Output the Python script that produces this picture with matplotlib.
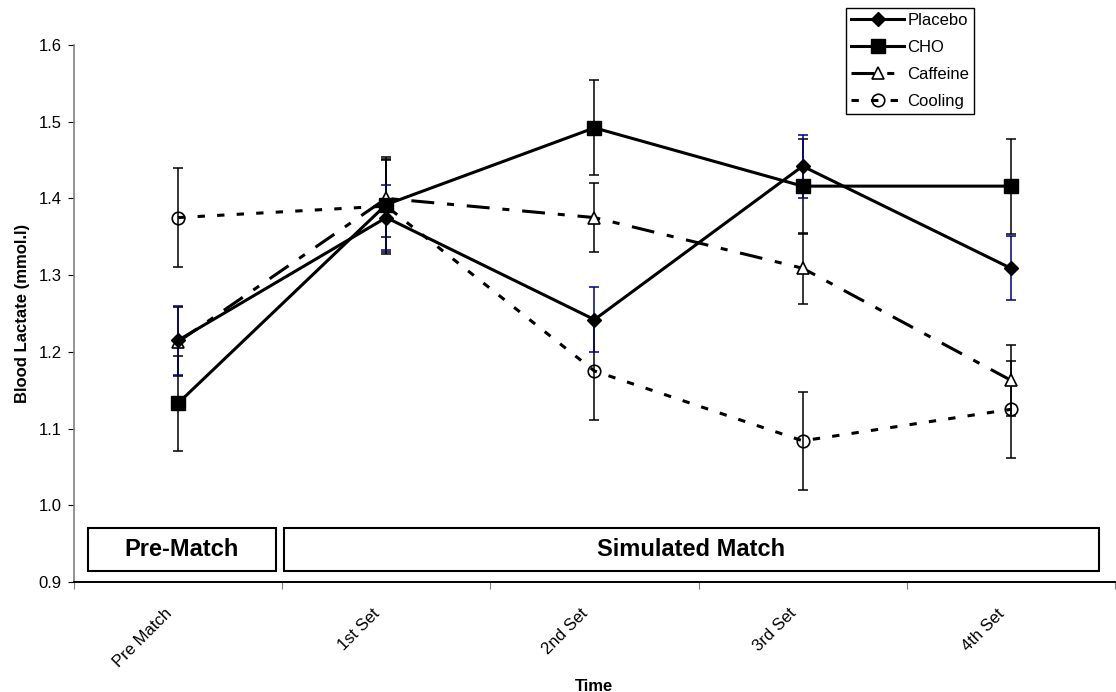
import matplotlib.pyplot as plt
import matplotlib.transforms as mtransforms
from matplotlib.patches import Rectangle

plt.rcParams['font.family'] = ['Liberation Sans', 'DejaVu Sans']

times = ['Pre Match', '1st Set', '2nd Set', '3rd Set', '4th Set']

placebo = [1.215, 1.375, 1.242, 1.442, 1.309]
placebo_err = [0.045, 0.042, 0.042, 0.041, 0.042]
cho = [1.133, 1.392, 1.492, 1.416, 1.416]
cho_err = [0.062, 0.062, 0.062, 0.062, 0.062]
caffeine = [1.213, 1.400, 1.375, 1.309, 1.163]
caffeine_err = [0.045, 0.050, 0.045, 0.046, 0.046]
cooling = [1.375, 1.390, 1.175, 1.084, 1.125]
cooling_err = [0.065, 0.062, 0.064, 0.064, 0.063]

fig = plt.figure(figsize=(11.16, 6.92), dpi=100)
ax = fig.add_axes([0.0663, 0.159, 0.9327, 0.776])
x = list(range(len(times)))

# error bars first (placebo bars are navy), lines on top
ebkw = dict(fmt='none', elinewidth=1.1, capsize=3.6, capthick=1.1, zorder=2)
ax.errorbar(x, cho, yerr=cho_err, ecolor='black', **ebkw)
ax.errorbar(x, caffeine, yerr=caffeine_err, ecolor='black', **ebkw)
ax.errorbar(x, cooling, yerr=cooling_err, ecolor='black', **ebkw)
ax.errorbar(x, placebo, yerr=placebo_err, ecolor='#000080', **ebkw)

ax.plot(x, placebo, color='black', lw=2.2, marker='D', ms=7.5,
        mfc='black', label='Placebo', zorder=4)
ax.plot(x, cho, color='black', lw=2.2, marker='s', ms=9.5,
        mfc='black', label='CHO', zorder=4)
ax.plot(x, caffeine, color='black', lw=2.2, dashes=(7.5, 4.2, 2.3, 4.2),
        marker='^', ms=8, mfc='white', mew=1.2, label='Caffeine', zorder=3)
ax.plot(x, cooling, color='black', lw=2.2, dashes=(2.4, 4.0),
        marker='o', ms=9, mfc='none', mew=1.2, label='Cooling', zorder=3)

ax.set_xlim(-0.5, 4.5)
ax.set_ylim(0.9, 1.6)
ax.set_yticks([0.9, 1.0, 1.1, 1.2, 1.3, 1.4, 1.5, 1.6])
ax.set_yticklabels(['%.1f' % v for v in ax.get_yticks()], fontsize=12)

# ticks sit between categories; category names are slanted text below
ax.set_xticks([i - 0.5 for i in range(len(times) + 1)])
ax.tick_params(axis='x', length=5, color='gray', direction='out',
               labelbottom=False)
lab_trans = ax.get_xaxis_transform() + mtransforms.ScaledTranslation(
    -0.14, -0.24, fig.dpi_scale_trans)
for i, name in enumerate(times):
    ax.text(i, 0, name, transform=lab_trans, rotation=45, ha='right',
            va='top', rotation_mode='anchor', fontsize=12)

ax.tick_params(axis='y', length=4.3, pad=4.5, direction='out', color='black')
for s in ['top', 'right']:
    ax.spines[s].set_visible(False)
ax.spines['left'].set_color('gray')
ax.spines['left'].set_linewidth(1.2)
ax.spines['bottom'].set_linewidth(1.4)

ax.set_ylabel('Blood Lactate (mmol.l)', fontsize=12, fontweight='bold')
ax.yaxis.set_label_coords(-0.042, 0.5)
ax.set_xlabel('Time', fontsize=12, fontweight='bold')
ax.xaxis.set_label_coords(0.5, -0.181)

# phase boxes along the bottom of the plot
boxes = [(-0.433, 0.471, 'Pre-Match'), (0.51, 4.423, 'Simulated Match')]
for x0, x1, txt in boxes:
    ax.add_patch(Rectangle((x0, 0.914), x1 - x0, 0.057, facecolor='white',
                           edgecolor='black', lw=1.5, zorder=5))
    ax.text((x0 + x1) / 2, 0.9425, txt, ha='center', va='center',
            fontsize=17, fontweight='bold', zorder=6)

leg = ax.legend(loc='upper left', bbox_to_anchor=(0.7416, 1.069), fontsize=12,
                frameon=True, fancybox=False, edgecolor='black', framealpha=1,
                handlelength=3.2, handletextpad=0.2, borderpad=0.3,
                labelspacing=0.72, borderaxespad=0)
leg.get_frame().set_linewidth(1.0)

fig.savefig('out.png', dpi=100)
